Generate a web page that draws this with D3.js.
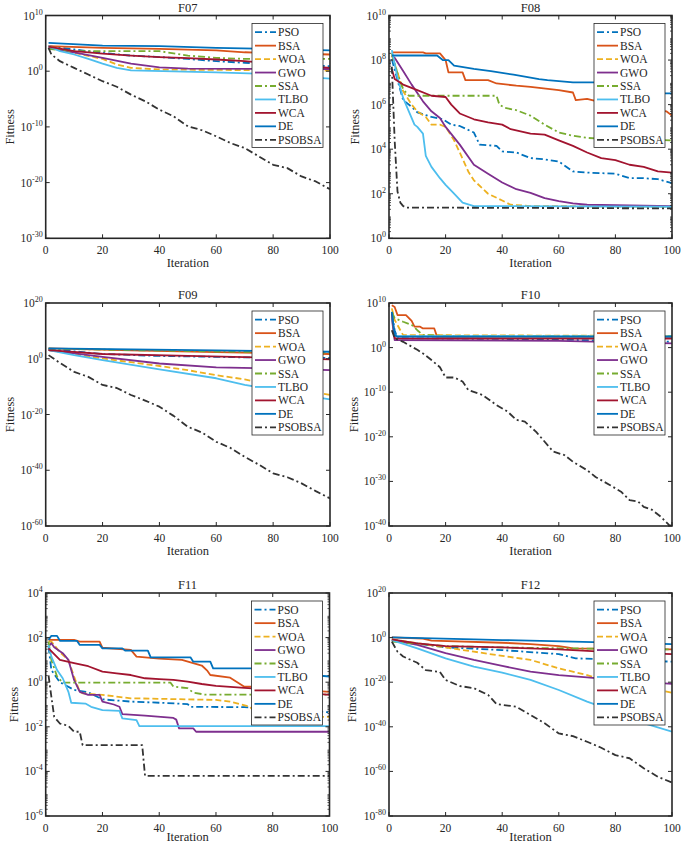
<!DOCTYPE html>
<html><head><meta charset="utf-8">
<script src="https://cdn.jsdelivr.net/npm/d3@7"></script>
<style>
body{margin:0;background:#fff;}
text{font-family:"Liberation Serif","Times New Roman",serif;fill:#262626;}
</style></head>
<body><svg id="c" width="685" height="846"></svg>
<script>
const seriesNames = ["PSO","BSA","WOA","GWO","SSA","TLBO","WCA","DE","PSOBSA"];
const seriesColors = ["#0072BD","#D95319","#EDB120","#7E2F8E","#77AC30","#4DBEEE","#A2142F","#0072BD","#333333"];
const seriesDash = ["7,3,2,3",null,"6,3",null,"7,3,2,3",null,null,null,"7,3,2,3"];
const xTicks = [0,20,40,60,80,100];

const F07_yExp = [10,0,-10,-20,-30];
const F08_yExp = [10,8,6,4,2,0];
const F09_yExp = [20,0,-20,-40,-60];
const F10_yExp = [10,0,-10,-20,-30,-40];
const F11_yExp = [4,2,0,-2,-4,-6];
const F12_yExp = [20,0,-20,-40,-60,-80];

const F07 = [
 [[1,3.2e4],[10,7.9e3],[20,2e3],[30,6.3e2],[40,3.5e2],[50,1.6e2],[60,63],[70,32],[80,20],[90,12.6],[100,7.9]],
 [[1,3.2e4],[20,1.6e4],[40,1e4],[60,5.6e3],[70,2.5e3],[100,1e3]],
 [[1,2.5e4],[10,2e3],[20,1.6e2],[25,16],[30,4],[40,2],[100,1.26]],
 [[1,1.6e4],[10,2.5e3],[20,2.5e2],[30,22],[40,5],[50,2.8],[100,2.5]],
 [[1,1e4],[10,4e3],[40,4e3],[45,1.6e3],[50,6.3e2],[60,2.5e2],[70,1.6e2],[100,1.6e2]],
 [[1,3.2e4],[5,4e3],[10,1e3],[15,1.6e2],[20,22],[25,4],[30,1.4],[60,0.63],[75,0.35],[100,0.045]],
 [[1,2.5e4],[10,4e3],[20,1.4e3],[30,6.3e2],[40,3.5e2],[50,2.2e2],[60,1.26e2],[70,63],[80,25],[90,10],[100,4]],
 [[1,1.2e5],[20,4e4],[40,3.2e4],[60,1.6e4],[80,1e4],[100,5.6e3]],
 [[1,1.6e4],[2,1e3],[5,63],[10,4],[15,0.25],[20,1.6e-2],[25,1.6e-3],[30,6.3e-5],[35,4e-6],[40,1.26e-7],[45,7.9e-9],[50,1.26e-10],[55,2.5e-11],[60,2e-12],[65,1.26e-13],[70,1.6e-14],[75,5e-16],[80,1.6e-17],[85,4e-18],[90,1.26e-19],[95,1.6e-20],[100,6.3e-22]]
];
const F08 = [
 [[1,1.1e8],[3,1.26e7],[5,1.6e6],[8,7.9e5],[10,4.5e5],[15,2.8e5],[19,2.2e5],[22,1.26e5],[25,1.1e5],[30,5.6e4],[32,1.6e4],[38,1.4e4],[40,7.9e3],[45,7.1e3],[50,4e3],[55,3.5e3],[60,2.8e3],[65,1e3],[70,8.9e2],[80,7.9e2],[85,5e2],[90,5e2],[95,4.5e2],[100,3e2]],
 [[1,2.2e8],[12,2.2e8],[13,2e8],[18,2e8],[20,1e8],[21,2.8e7],[26,2.8e7],[27,1.26e7],[35,1.26e7],[38,8.9e6],[45,7.1e6],[50,6.3e6],[60,4.5e6],[65,3.5e6],[66,1.6e6],[70,1.8e6],[75,1.26e6],[85,7.9e5],[95,5.6e5],[98,5e5],[100,3.2e5]],
 [[1,1.6e8],[3,2.8e7],[5,4e6],[8,1e6],[10,5e5],[13,2.8e5],[15,1.26e5],[18,1.26e5],[20,1e5],[23,2.5e4],[25,7.1e3],[28,1e3],[30,4e2],[35,1e2],[40,50],[43,32],[50,28],[100,26]],
 [[1,1.6e8],[2,1.26e8],[5,3.2e7],[8,7.9e6],[12,1.4e6],[15,5e5],[18,2.5e5],[20,1e5],[25,1.6e4],[30,2e3],[35,7.9e2],[40,3.2e2],[45,1.6e2],[50,1.1e2],[55,63],[60,47],[65,37],[70,32],[100,28]],
 [[1,2e8],[3,2.5e7],[5,5e6],[7,2.5e6],[38,2.5e6],[39,1e6],[41,7.1e5],[45,5.6e5],[50,3.2e5],[55,1.26e5],[60,5.6e4],[65,4e4],[70,3.2e4],[80,2.8e4],[100,2.5e4]],
 [[1,2.8e8],[3,1.6e7],[5,2e6],[7,5e5],[9,1.26e5],[10,1e5],[12,5e4],[13,5e3],[15,1.6e3],[18,5e2],[20,2.5e2],[23,1e2],[26,40],[30,28],[100,26]],
 [[1,4e7],[2,1.4e7],[5,7.9e6],[10,4.5e6],[15,2.5e6],[20,2.2e6],[22,1e6],[25,4e5],[30,2.2e5],[35,1.6e5],[40,1.26e5],[43,7.9e4],[50,5e4],[55,4.5e4],[60,2.5e4],[65,1.4e4],[70,7.1e3],[75,4e3],[80,3.2e3],[85,2e3],[90,1.6e3],[95,1e3],[100,8.9e2]],
 [[1,1.6e8],[17,1.6e8],[19,1e8],[21,1e8],[23,5.6e7],[30,4e7],[36,3.2e7],[44,2.2e7],[53,1.4e7],[56,1.26e7],[65,1e7],[75,1e7],[85,5e6],[97,3.2e6],[100,3.2e6]],
 [[1,5e7],[2,2.5e4],[3,1.26e2],[4,40],[5,28],[6,24],[100,22]]
];
const F09 = [
 [[1,3.2e3],[20,50],[40,10],[70,3.2],[100,2]],
 [[1,5e3],[30,1e3],[60,2.5e2],[100,50]],
 [[1,1.26e3],[20,1.26],[40,2.5e-3],[50,7.9e-5],[60,1.26e-6],[70,4e-8],[80,3.2e-10],[90,1e-11],[100,1e-13]],
 [[1,1.26e3],[20,5],[40,2e-2],[60,7.9e-4],[80,3.2e-4],[100,7.9e-5]],
 [[1,4e3],[30,1.26e3],[60,4e2],[100,1.4e2]],
 [[1,1.26e3],[10,20],[20,0.32],[40,1.6e-4],[60,1e-7],[70,4e-10],[80,1e-11],[90,1e-13],[100,2.5e-15]],
 [[1,1.26e3],[20,50],[50,10],[70,4],[100,0.63]],
 [[1,5e3],[30,2.5e3],[60,1e3],[100,3.2e2]],
 [[1,20],[5,3.2e-2],[10,2e-5],[15,3.2e-7],[20,4e-10],[25,3.2e-11],[30,1e-13],[35,1e-15],[40,6.3e-18],[45,3.2e-21],[50,4e-25],[55,3.2e-27],[60,1.6e-30],[65,1e-32],[70,6.3e-36],[75,1e-38],[80,7.9e-42],[85,3.2e-43],[90,2e-45],[95,3.2e-48],[100,7.9e-51]]
];
const F10 = [
 [[1,5e7],[2,7.9e3],[3,1.26e2],[50,79],[100,20]],
 [[1,3.2e9],[2,1.26e9],[3,2e7],[6,2e7],[8,1e6],[9,5e4],[11,5e4],[12,2e4],[16,2e4],[17,2.5e2],[100,2.5e2]],
 [[1,6.3e8],[2,1.6e6],[4,7.9e3],[5,6.3e2],[100,4e2]],
 [[1,4e6],[2,50],[60,32],[100,8.9]],
 [[1,1e8],[2,4e6],[5,6.3e5],[8,1.26e5],[10,7.9e3],[12,6.3e2],[22,4e2],[100,4e2]],
 [[1,7.9e6],[2,4e2],[100,3.2e2]],
 [[1,5e7],[2,1.26e2],[60,1e2],[100,1.1e2]],
 [[1,1e8],[2,6.3e2],[3,2.8e2],[100,2.8e2]],
 [[1,7.9e3],[2,1.26e2],[5,20],[10,0.32],[12,5e-2],[15,1.6e-3],[18,4e-5],[20,2e-7],[23,2e-7],[26,2.5e-8],[28,3.2e-10],[33,2.5e-11],[38,1.26e-13],[42,4e-15],[45,6.3e-17],[48,2.5e-17],[52,1.26e-19],[58,5e-24],[62,7.9e-25],[65,2.5e-26],[70,3.2e-28],[73,1e-29],[78,1.6e-31],[82,5e-33],[85,6.3e-35],[88,3.2e-35],[90,2e-36],[93,4e-37],[96,1.26e-38],[99,1.6e-40],[100,1e-40]]
];
const F11 = [
 [[1,40],[2,3.5],[5,1],[10,0.45],[15,0.35],[20,0.17],[30,0.135],[40,0.12],[50,0.105],[51,7.9e-2],[70,7.6e-2],[100,4.5e-2]],
 [[1,79],[10,79],[12,66],[19,66],[20,35],[30,28],[32,14],[40,11.5],[48,10],[55,5.6],[57,3.2],[58,2.1],[65,1.6],[70,0.63],[73,0.63],[100,0.37]],
 [[1,66],[2,66],[4,32],[5,22],[8,10],[10,1.8],[12,0.37],[13,0.32],[20,0.27],[30,0.19],[40,0.18],[60,0.16],[65,0.135],[72,7.9e-2],[75,2.8e-2],[100,2.8e-2]],
 [[1,40],[2,56],[3,37],[6,20],[8,10],[10,1.26],[12,0.37],[15,0.27],[19,0.27],[20,0.135],[24,0.1],[26,7.9e-2],[27,3.7e-2],[35,3.2e-2],[45,2.5e-2],[46,2.1e-2],[47,8.5e-3],[52,8.5e-3],[53,6e-3],[100,6e-3]],
 [[1,66],[2,10],[4,1.8],[6,0.95],[44,0.95],[45,0.63],[50,0.54],[52,0.34],[56,0.28],[100,0.28]],
 [[1,47],[2,14],[4,3.5],[6,1.5],[8,0.37],[9,0.12],[14,0.11],[16,7.9e-2],[20,5.6e-2],[26,5.2e-2],[27,2.4e-2],[32,2e-2],[33,1.07e-2],[100,1.07e-2]],
 [[1,33],[5,10],[10,7.1],[15,5.2],[20,3],[25,2.5],[30,2.1],[35,1.5],[40,1.38],[45,1.26],[50,1.05],[55,0.83],[60,0.68],[70,0.56],[80,0.45],[100,0.27]],
 [[1,79],[2,120],[4,120],[5,72],[11,72],[12,47],[19,47],[20,33],[27,33],[28,26],[36,26],[37,13],[51,13],[52,8.3],[58,8.3],[59,4.2],[73,4.2],[74,3.5],[100,1.8]],
 [[1,2],[2,0.22],[3,2.8e-2],[5,1.4e-2],[8,1.1e-2],[10,6e-3],[12,6e-3],[13,1.5e-3],[34,1.5e-3],[35,6.3e-5],[100,6.3e-5]]
];
const F12 = [
 [[1,7.9e-2],[20,4e-5],[40,2.5e-6],[60,4e-8],[66,5e-10],[75,2e-10],[100,1.6e-11]],
 [[1,1.26],[12,0.32],[15,4e-2],[40,5e-3],[50,1.26e-3],[60,1.6e-4],[63,4e-5],[65,1.6e-5],[100,5e-6]],
 [[1,0.16],[20,4e-5],[30,5e-7],[40,6.3e-9],[50,1e-10],[60,1.6e-14],[70,1.6e-17],[75,2e-19],[100,2e-25]],
 [[1,7.9e-2],[10,5e-4],[20,1e-7],[30,1e-10],[40,2e-13],[50,5e-16],[60,1.6e-17],[70,1.6e-18],[80,1e-19],[100,1.6e-21]],
 [[1,1.6e-2],[20,1.6e-4],[40,4e-5],[60,1.6e-5],[100,5e-6]],
 [[1,7.9e-2],[10,1.6e-5],[20,5e-10],[30,1e-13],[40,2e-16],[50,1e-19],[60,3.2e-24],[70,2e-29],[80,6.3e-34],[90,4e-39],[100,6.3e-43]],
 [[1,0.16],[10,2.5e-3],[20,1.6e-4],[40,4e-5],[60,5e-6],[75,5e-7],[100,4e-8]],
 [[1,1.26],[30,0.16],[40,7.9e-2],[65,1.6e-2],[100,1.26e-3]],
 [[1,1.6e-2],[3,5e-7],[5,3.2e-9],[10,5e-12],[13,2.5e-15],[18,4e-16],[20,1e-19],[25,2e-22],[30,2e-23],[35,2e-26],[38,1.6e-30],[45,1e-31],[50,2e-35],[55,4e-39],[60,1e-43],[65,6.3e-45],[70,2e-47],[75,4e-50],[80,2e-53],[85,7.9e-55],[90,2.5e-59],[95,4e-63],[100,1e-65]]
];

const panels = [
 {title:"F07", data:F07, yExp:F07_yExp, L:45.7, T:15.5, R:330, B:238.3, ylx:10, minor:false},
 {title:"F08", data:F08, yExp:F08_yExp, L:389, T:15.5, R:672, B:238.3, ylx:355, minor:true},
 {title:"F09", data:F09, yExp:F09_yExp, L:45.7, T:303, R:330, B:526, ylx:10, minor:false},
 {title:"F10", data:F10, yExp:F10_yExp, L:389, T:303, R:672, B:526, ylx:354, minor:false},
 {title:"F11", data:F11, yExp:F11_yExp, L:45.7, T:593, R:329.5, B:816, ylx:14, minor:true},
 {title:"F12", data:F12, yExp:F12_yExp, L:389, T:593, R:672, B:816, ylx:352, minor:false}
];

const svg = d3.select("#c");
const axisColor = "#262626";

panels.forEach((p, pi) => {
  const ymax = d3.max(p.yExp), ymin = d3.min(p.yExp);
  const x = d3.scaleLinear().domain([0,100]).range([p.L, p.R]);
  const y = d3.scaleLog().domain([Math.pow(10,ymin), Math.pow(10,ymax)]).range([p.B, p.T]);
  const g = svg.append("g");
  const clipId = "clip"+pi;
  svg.append("defs").append("clipPath").attr("id",clipId)
    .append("rect").attr("x",p.L).attr("y",p.T).attr("width",p.R-p.L).attr("height",p.B-p.T);

  const line = d3.line().x(d=>x(d[0])).y(d=>y(d[1]));
  const lg = g.append("g").attr("clip-path","url(#"+clipId+")");
  p.data.forEach((s, i) => {
    lg.append("path").attr("d", line(s)).attr("fill","none")
      .attr("stroke", seriesColors[i]).attr("stroke-width",1.8)
      .attr("stroke-dasharray", seriesDash[i]).attr("stroke-linejoin","round");
  });

  const tl = 4;
  xTicks.forEach(t => {
    const xx = x(t);
    g.append("line").attr("x1",xx).attr("x2",xx).attr("y1",p.B).attr("y2",p.B-tl).attr("stroke",axisColor).attr("stroke-width",1);
    g.append("line").attr("x1",xx).attr("x2",xx).attr("y1",p.T).attr("y2",p.T+tl).attr("stroke",axisColor).attr("stroke-width",1);
    g.append("text").attr("x",xx).attr("y",p.B+16).attr("text-anchor","middle").attr("font-size",11.5).text(t);
  });
  p.yExp.forEach(e => {
    const yy = y(Math.pow(10,e));
    g.append("line").attr("x1",p.L).attr("x2",p.L+tl).attr("y1",yy).attr("y2",yy).attr("stroke",axisColor).attr("stroke-width",1);
    g.append("line").attr("x1",p.R).attr("x2",p.R-tl).attr("y1",yy).attr("y2",yy).attr("stroke",axisColor).attr("stroke-width",1);
    const t = g.append("text").attr("x",p.L-3).attr("y",yy+4).attr("text-anchor","end").attr("font-size",11.5);
    t.append("tspan").text("10");
    t.append("tspan").attr("dy",-5).attr("font-size",8).text(String(e));
  });
  if (p.minor) {
    for (let e = ymin; e < ymax; e++) {
      for (let k = 2; k <= 9; k++) {
        const yy = y(k*Math.pow(10,e));
        g.append("line").attr("x1",p.L).attr("x2",p.L+2).attr("y1",yy).attr("y2",yy).attr("stroke",axisColor).attr("stroke-width",0.8);
        g.append("line").attr("x1",p.R).attr("x2",p.R-2).attr("y1",yy).attr("y2",yy).attr("stroke",axisColor).attr("stroke-width",0.8);
      }
    }
  }
  g.append("rect").attr("x",p.L).attr("y",p.T).attr("width",p.R-p.L).attr("height",p.B-p.T)
    .attr("fill","none").attr("stroke",axisColor).attr("stroke-width",1.6);

  g.append("text").attr("x",(p.L+p.R)/2).attr("y",p.T-4).attr("text-anchor","middle").attr("font-size",12.5).text(p.title);
  g.append("text").attr("x",(p.L+p.R)/2).attr("y",Math.min(p.B+29, 841)).attr("text-anchor","middle").attr("font-size",12.5).text("Iteration");
  g.append("text").attr("transform","translate("+(p.ylx+4)+","+((p.T+p.B)/2)+") rotate(-90)")
    .attr("text-anchor","middle").attr("font-size",12.5).text("Fitness");

  const lw = 71, lh = 124;
  const lx = p.R - 7 - lw, ly = p.T + 8;
  const leg = g.append("g");
  leg.append("rect").attr("x",lx).attr("y",ly).attr("width",lw).attr("height",lh)
    .attr("fill","#fff").attr("stroke",axisColor).attr("stroke-width",0.8);
  seriesNames.forEach((n, i) => {
    const yy = ly + 8.7 + i*13.45;
    leg.append("line").attr("x1",lx+3).attr("x2",lx+24).attr("y1",yy).attr("y2",yy)
      .attr("stroke",seriesColors[i]).attr("stroke-width",1.8).attr("stroke-dasharray",seriesDash[i]);
    leg.append("text").attr("x",lx+26).attr("y",yy+4).attr("font-size",11.5).text(n);
  });
});
</script></body></html>
